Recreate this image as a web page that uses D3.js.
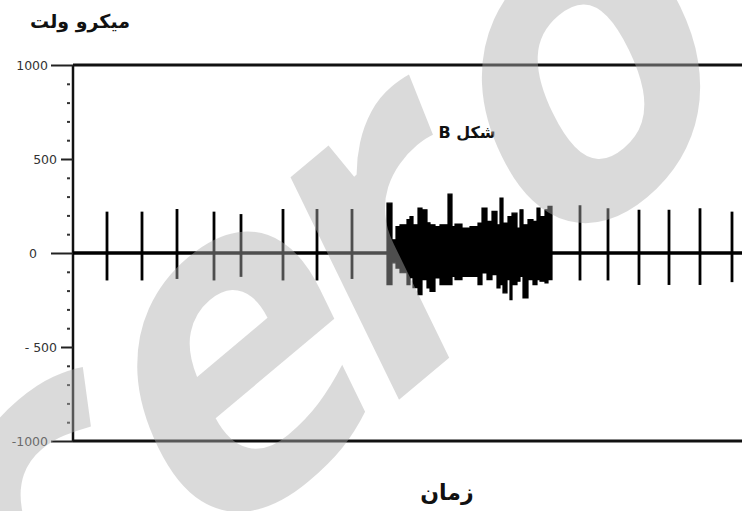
<!DOCTYPE html>
<html>
<head>
<meta charset="utf-8">
<script src="https://cdn.jsdelivr.net/npm/d3@7"></script>
<style>
  body { margin: 0; background: #fff; }
  svg { display: block; }
</style>
</head>
<body>
<div id="chart"></div>
<script>
// Texts
var yTitle = "میکرو ولت";
var xTitle = "زمان";
var panelLabel = "شکل B";
var watermarkLetters = ["c", "e", "r", "o"];

// Y axis ticks (micro volt)
var majorTicks = [1000, 500, 0, -500, -1000];
var majorLabels = ["1000", "500", "0", "- 500", "-1000"];
var minorTicks = [900, 800, 700, 600, 400, 300, 200, 100, -100, -200, -300, -400, -600, -700, -800, -900];

// Baseline of the trace (time, value)
var baseTimes = [0, 670];
var baseValues = [0, 0];

// Single spikes: time, positive peak, negative peak
var spikeTimes = [34, 69, 104, 141, 168, 210, 244, 279, 507, 535, 566, 596, 627, 659];
var spikeHigh = [220, 220, 234, 220, 207, 234, 234, 234, 254, 238, 230, 230, 238, 220];
var spikeLow = [-146, -146, -138, -146, -127, -146, -146, -138, -146, -146, -170, -170, -170, -155];

// Burst: start of each step, upper and lower envelope
var burstTimes = [314, 319, 323, 327, 334, 337, 340, 345, 349, 354, 357, 362, 367, 375, 379, 382, 389,
                  397, 405, 409, 414, 419, 424, 427, 430, 434, 435, 437, 439, 444, 447, 450, 455, 460, 464, 467, 472, 475, 479];
var burstHigh = [265, 70, 141, 150, 177, 194, 150, 239, 230, 161, 150, 141, 150, 313, 141, 154, 133,
                 141, 159, 239, 168, 221, 150, 292, 159, 159, 194, 194, 212, 133, 230, 150, 177, 168, 239, 194, 230, 248, 248];
var burstLow = [-168, -52, -80, -105, -168, -131, -184, -221, -142, -186, -204, -133, -168, -168, -124, -142, -124,
                -124, -168, -106, -142, -115, -186, -168, -212, -142, -142, -248, -168, -150, -124, -239, -142, -168, -142, -150, -159, -142, -142];

var width = 742;
var height = 511;

var svg = d3.select("#chart")
    .append("svg")
    .attr("width", width)
    .attr("height", height);

var x = d3.scaleLinear().domain([0, 670]).range([73, 743]);
var y = d3.scaleLinear().domain([-1000, 1000]).range([441, 65]);

// Frame (left, top, bottom)
svg.append("line")
    .attr("x1", x(0)).attr("x2", width)
    .attr("y1", y(1000)).attr("y2", y(1000))
    .attr("stroke", "#111").attr("stroke-width", 3);
svg.append("line")
    .attr("x1", x(0)).attr("x2", width)
    .attr("y1", y(-1000)).attr("y2", y(-1000))
    .attr("stroke", "#111").attr("stroke-width", 3);
svg.append("line")
    .attr("x1", x(0)).attr("x2", x(0))
    .attr("y1", y(1000)).attr("y2", y(-1000))
    .attr("stroke", "#111").attr("stroke-width", 2.5);

// Major ticks
var yAxis = svg.append("g")
    .attr("transform", "translate(" + x(0) + ",0)")
    .call(d3.axisLeft(y)
        .tickValues(majorTicks)
        .tickSize(22)
        .tickPadding(3)
        .tickFormat(function (d, i) { return majorLabels[i]; }));
yAxis.select(".domain").remove();
yAxis.selectAll(".tick line")
    .attr("stroke", "#222")
    .attr("stroke-width", 2)
    .attr("x2", function (d) { return Math.abs(d) === 500 ? -12 : -22; });
yAxis.selectAll(".tick text")
    .attr("font-family", "DejaVu Sans, sans-serif")
    .attr("font-size", 12.5)
    .attr("fill", "#333")
    .attr("x", function (d) {
        if (d === 0) return -36;
        return Math.abs(d) === 500 ? -16 : -25;
    });

// Minor ticks
var yMinor = svg.append("g")
    .attr("transform", "translate(" + (x(0) - 3) + ",0)")
    .call(d3.axisLeft(y).tickValues(minorTicks).tickSize(3).tickFormat(""));
yMinor.select(".domain").remove();
yMinor.selectAll(".tick line").attr("stroke", "#333").attr("stroke-width", 2);

// Trace
var line = d3.line()
    .x(function (d, i) { return x(baseTimes[i]); })
    .y(function (d) { return y(d); });
svg.append("path")
    .attr("d", line(baseValues))
    .attr("fill", "none")
    .attr("stroke", "#000")
    .attr("stroke-width", 3.5);

svg.selectAll(".spike")
    .data(spikeTimes)
    .enter()
    .append("line")
    .attr("class", "spike")
    .attr("x1", function (d) { return x(d); })
    .attr("x2", function (d) { return x(d); })
    .attr("y1", function (d, i) { return y(spikeHigh[i]); })
    .attr("y2", function (d, i) { return y(spikeLow[i]); })
    .attr("stroke", "#000")
    .attr("stroke-width", 2.8);

var burstArea = d3.area()
    .curve(d3.curveStepAfter)
    .x(function (d) { return x(d); })
    .y0(function (d, i) { return y(burstLow[i]); })
    .y1(function (d, i) { return y(burstHigh[i]); });
svg.append("path")
    .attr("d", burstArea(burstTimes))
    .attr("fill", "#000")
    .attr("stroke", "#000")
    .attr("stroke-width", 1.2);

// Titles
svg.append("text")
    .attr("x", 80).attr("y", 28)
    .attr("text-anchor", "middle")
    .attr("font-family", "DejaVu Sans, sans-serif")
    .attr("font-weight", "bold")
    .attr("font-size", 19)
    .attr("fill", "#111")
    .text(yTitle);

svg.append("text")
    .attr("x", 467).attr("y", 138)
    .attr("text-anchor", "middle")
    .attr("direction", "rtl")
    .attr("font-family", "DejaVu Sans, sans-serif")
    .attr("font-weight", "bold")
    .attr("font-size", 16)
    .attr("fill", "#111")
    .text(panelLabel);

svg.append("text")
    .attr("x", 447).attr("y", 500)
    .attr("text-anchor", "middle")
    .attr("font-family", "DejaVu Sans, sans-serif")
    .attr("font-weight", "bold")
    .attr("font-size", 22)
    .attr("fill", "#111")
    .text(xTitle);

// Watermark on top (slanted, semi transparent)
var letterShift = [15, 0, -30, 20];
var wm = svg.append("text")
    .attr("transform", "translate(375,420) rotate(-40) skewX(-14)")
    .attr("text-anchor", "middle")
    .attr("font-family", "Open Sans, sans-serif")
    .attr("font-weight", "bold")
    .attr("font-size", 440)
    .attr("fill", "rgb(174,174,174)")
    .attr("fill-opacity", 0.45);
wm.selectAll("tspan")
    .data(watermarkLetters)
    .enter()
    .append("tspan")
    .attr("dx", function (d, i) { return letterShift[i]; })
    .text(function (d) { return d; });
</script>
</body>
</html>
